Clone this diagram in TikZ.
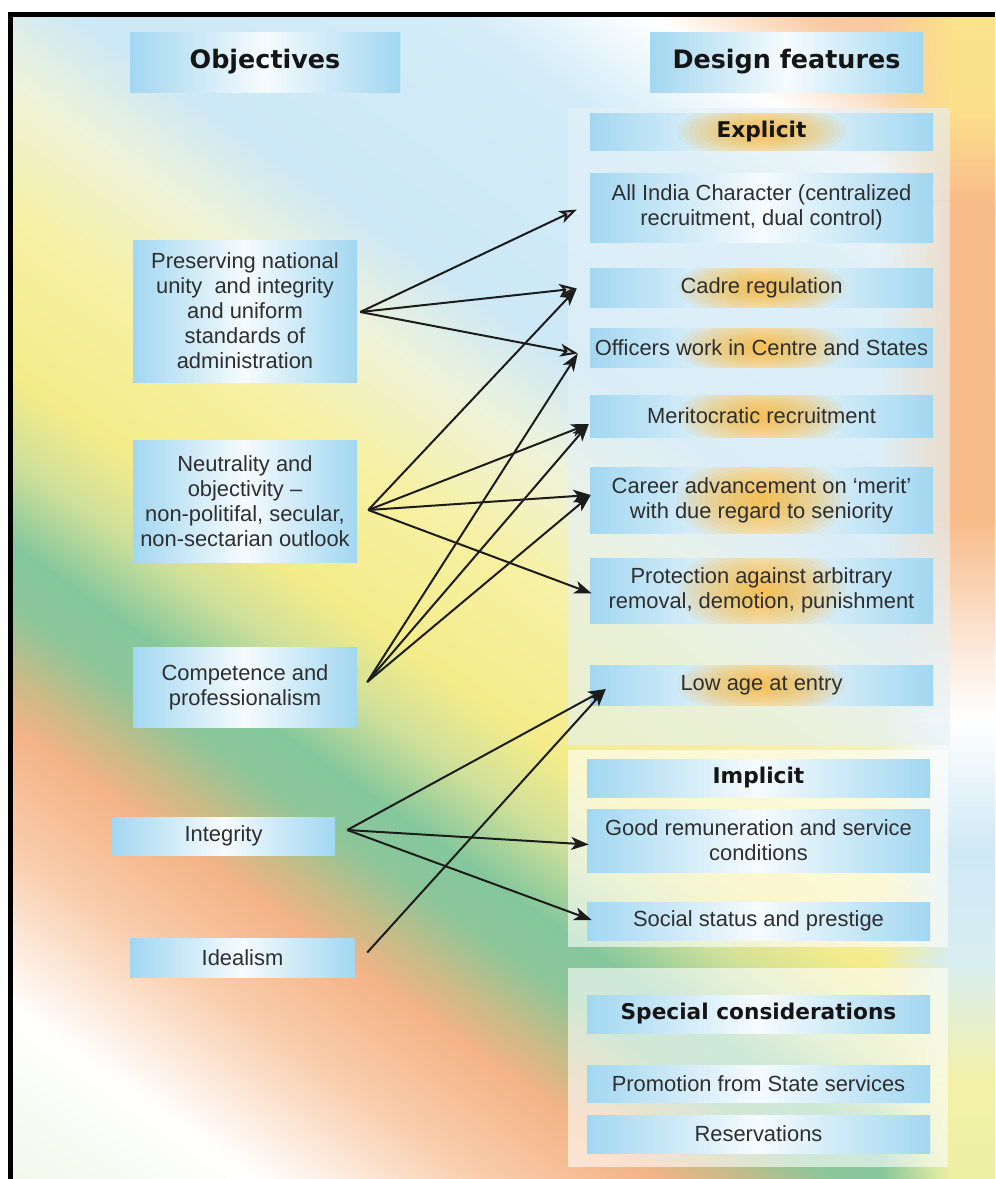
\documentclass[tikz,border=0pt]{standalone}
\usepackage{fontspec}
\setmainfont{Liberation Sans}
\newfontfamily\hfont{DejaVu Sans}
\usetikzlibrary{arrows.meta,fadings,calc}

\newlength\pxu
\setlength\pxu{0.3mm}

% diagonal band colours of the backdrop
\definecolor{bA}{HTML}{F9BD8E}
\definecolor{bB}{HTML}{F9CBA3}
\definecolor{bC}{HTML}{FFFFFF}
\definecolor{bD}{HTML}{D3ECF8}
\definecolor{bE}{HTML}{CDE8F6}
\definecolor{bF}{HTML}{EEF3DA}
\definecolor{bG}{HTML}{F6F1A4}
\definecolor{bH}{HTML}{F4EC8A}
\definecolor{bI}{HTML}{CFE09A}
\definecolor{bJ}{HTML}{84C79C}
\definecolor{bJJ}{HTML}{8CC69A}
\definecolor{bK}{HTML}{C3BC88}
\definecolor{bL}{HTML}{F4B386}
\definecolor{bM}{HTML}{F9CDAC}
\definecolor{bN}{HTML}{FFFFFF}
\definecolor{bO}{HTML}{EDF5E2}
% right-hand edge strip
\definecolor{rA}{HTML}{FCE28C}
\definecolor{rB}{HTML}{FCE08C}
\definecolor{rC}{HTML}{F8BC8A}
\definecolor{rD}{HTML}{F8BC8A}
\definecolor{rE}{HTML}{FCE6D6}
\definecolor{rF}{HTML}{FFFFFF}
\definecolor{rG}{HTML}{CFE9F6}
\definecolor{rH}{HTML}{D8EEF2}
\definecolor{rI}{HTML}{F3F1A8}
\definecolor{rJ}{HTML}{EEF0A4}
% boxes, panels and lines
\definecolor{boxblue}{HTML}{A2D7F1}
\definecolor{boxmid}{HTML}{F6FBFD}
\definecolor{glowc}{HTML}{F5B129}
\definecolor{panelblue}{HTML}{E4F1F7}
\definecolor{txt}{HTML}{2E2E2E}
\definecolor{headtxt}{HTML}{151515}
\definecolor{linec}{HTML}{1C1C1C}

\tikzfading[name=leftfade, left color=transparent!100, right color=transparent!0]

\newcommand\bodyfont{\fontsize{18.7}{21.3}\selectfont}
\newcommand\headfont{\hfont\bfseries\fontsize{21.7}{24}\selectfont}
\newcommand\subfont{\hfont\bfseries\fontsize{18.5}{21}\selectfont}

\begin{document}
\begin{tikzpicture}[x=0.3mm, y=-0.3mm,
  box/.style={rectangle, inner sep=0pt, align=center, text=txt, font=\bodyfont,
    left color=boxblue, right color=boxblue, middle color=boxmid},
  % soft orange glow behind the text, built from stacked translucent ellipses
  glowbox/.style={box, path picture={
    \foreach \k in {1,...,15}{
      \fill[glowc, fill opacity=0.085] (path picture bounding box.center)
        ellipse [x radius={\k*4.8pt}, y radius={\k*#1/15}];}}},
  headbox/.style={box, font=\headfont, text=headtxt},
  subbox/.style={box, font=\subfont, text=headtxt},
  subglow/.style={glowbox=#1, font=\subfont, text=headtxt},
  panel/.style={fill=#1, fill opacity=0.6},
  link/.style={draw=linec, line width=1.7pt, -{Stealth[length=15pt, width=11pt, inset=4pt]}},
  greylink/.style={link, -{Stealth[length=15pt, width=11pt, inset=4pt, fill=gray!45]}},
  frameline/.style={draw=black, line width=5*\pxu}
]
\useasboundingbox (0,0) rectangle (995,1179);
\fill[white] (0,0) rectangle (995,1179);

% ---------- backdrop: diagonal colour bands ----------
\begin{scope}
  \clip (13,17) rectangle (995,1179);
  \begin{scope}[transform canvas={rotate around={-35:(497,590)}}]
    \foreach \ta/\ca/\tb/\cb in {-820/bA/-650/bB, -650/bB/-560/bC, -560/bC/-450/bD,
        -450/bD/-230/bE, -230/bE/-140/bF, -140/bF/-30/bG, -30/bG/100/bH,
        100/bH/170/bI, 170/bI/240/bJ, 240/bJ/290/bJJ, 290/bJJ/340/bK, 340/bK/390/bL,
        390/bL/490/bM, 490/bM/620/bN, 620/bN/820/bO}{
      \shade[top color=\ca, bottom color=\cb] (-330,{590+(\ta)}) rectangle (1330,{591+(\tb)});
    }
  \end{scope}
  % strip along the right-hand edge
  \foreach \ya/\ca/\yb/\cb in {17/rA/110/rB, 110/rB/200/rC, 200/rC/520/rD,
      520/rD/640/rE, 640/rE/720/rF, 720/rF/850/rG, 850/rG/960/rH,
      960/rH/1080/rI, 1080/rI/1179/rJ}{
    \shade[top color=\ca, bottom color=\cb] (951,\ya) rectangle (995,{\yb+1});
    \shade[top color=\ca, bottom color=\cb, path fading=leftfade] (880,\ya) rectangle (952,{\yb+1});
  }
\end{scope}

% ---------- group panels ----------
\fill[panel=panelblue] (568,108) rectangle (950,745);
\fill[panel=white] (568,750) rectangle (948,947);
\fill[panel=white] (568,968) rectangle (948,1167);

% ---------- column headings ----------
\node[headbox, minimum width=270*\pxu, minimum height=60*\pxu] (obj) at (265,62) {Objectives};
\node[headbox, minimum width=273*\pxu, minimum height=60*\pxu] (des) at (786.5,62) {Design features};

% ---------- objectives ----------
\node[box, minimum width=224*\pxu, minimum height=142*\pxu] (pres) at (245,311)
  {Preserving national\\unity\ \ and integrity\\and uniform\\standards of\\administration};
\node[box, minimum width=224*\pxu, minimum height=122*\pxu] (neut) at (245,501)
  {Neutrality and\\objectivity --\\non-politifal, secular,\\non-sectarian outlook};
\node[box, minimum width=224*\pxu, minimum height=80*\pxu] (comp) at (245,687)
  {Competence and\\professionalism};
\node[box, minimum width=223*\pxu, minimum height=38*\pxu] (integ) at (223.5,836) {Integrity};
\node[box, minimum width=225*\pxu, minimum height=39*\pxu] (ideal) at (242.5,957.5) {Idealism};

% ---------- explicit design features ----------
\node[subglow=24pt, minimum width=343*\pxu, minimum height=37*\pxu] (expl) at (761.5,131.5) {Explicit};
\node[box, minimum width=343*\pxu, minimum height=69*\pxu] (allind) at (761.5,207.5)
  {All India Character (centralized\\recruitment, dual control)};
\node[glowbox=26pt, minimum width=343*\pxu, minimum height=39*\pxu] (cadre) at (761.5,287.5) {Cadre regulation};
\node[glowbox=26pt, minimum width=343*\pxu, minimum height=39*\pxu] (offic) at (761.5,347.5) {Officers work in Centre and States};
\node[glowbox=28pt, minimum width=343*\pxu, minimum height=42*\pxu] (merit) at (761.5,416) {Meritocratic recruitment};
\node[glowbox=40pt, minimum width=343*\pxu, minimum height=66*\pxu] (career) at (761.5,500)
  {Career advancement on `merit'\\with due regard to seniority};
\node[glowbox=40pt, minimum width=343*\pxu, minimum height=65*\pxu] (protect) at (761.5,590.5)
  {Protection against arbitrary\\removal, demotion, punishment};
\node[glowbox=26pt, minimum width=343*\pxu, minimum height=40*\pxu] (lowage) at (761.5,685) {Low age at entry};

% ---------- implicit design features ----------
\node[subbox, minimum width=343*\pxu, minimum height=38*\pxu] (impl) at (758.5,778) {Implicit};
\node[box, minimum width=343*\pxu, minimum height=63*\pxu] (remun) at (758.5,840.5)
  {Good remuneration and service\\conditions};
\node[box, minimum width=343*\pxu, minimum height=38*\pxu] (social) at (758.5,921) {Social status and prestige};

% ---------- special considerations ----------
\node[subbox, minimum width=343*\pxu, minimum height=38*\pxu] (special) at (758.5,1014) {Special considerations};
\node[box, minimum width=343*\pxu, minimum height=37*\pxu] (promo) at (758.5,1083.5) {Promotion from State services};
\node[box, minimum width=343*\pxu, minimum height=38*\pxu] (reserv) at (758.5,1134) {Reservations};

% ---------- connector end points ----------
\coordinate (pS) at ($(pres.east)+(3,1)$);
\coordinate (nS) at ($(neut.east)+(11,9)$);
\coordinate (cS) at ($(comp.east)+(10,-5)$);
\coordinate (iS) at ($(integ.east)+(12,-6)$);
\coordinate (dS) at ($(ideal.east)+(12,-5)$);

\coordinate (tAll)    at ($(allind.west)+(-13,2)$);
\coordinate (tCadre)  at ($(cadre.west)+(-13,1)$);
\coordinate (tOff)    at ($(offic.west)+(-12,6)$);
\coordinate (tMerit)  at ($(merit.west)+(-1,8)$);
\coordinate (tCareer) at ($(career.west)+(1,-5)$);
\coordinate (tProt)   at ($(protect.west)+(2,3)$);
\coordinate (tLow)    at ($(lowage.west)+(16,4)$);
\coordinate (tRem)    at ($(remun.west)+(2,4)$);
\coordinate (tSoc)    at ($(social.west)+(5,-1)$);

% ---------- connectors ----------
\draw[greylink] (pS) -- (tAll);
\draw[greylink] (pS) -- (tCadre);
\draw[greylink] (pS) -- (tOff);

\draw[link] (nS) -- (tCadre);
\draw[link] (nS) -- (tMerit);
\draw[link] (nS) -- (tCareer);
\draw[link] (nS) -- (tProt);

\draw[link] (cS) -- (tOff);
\draw[link] (cS) -- (tMerit);
\draw[link] (cS) -- (tCareer);

\draw[link] (iS) -- (tLow);
\draw[link] (iS) -- (tRem);
\draw[link] (iS) -- (tSoc);

\draw[link] (dS) -- (tLow);

% ---------- frame ----------
\draw[frameline] (10.5,1179) -- (10.5,14.5) -- (995,14.5);
\end{tikzpicture}
\end{document}
